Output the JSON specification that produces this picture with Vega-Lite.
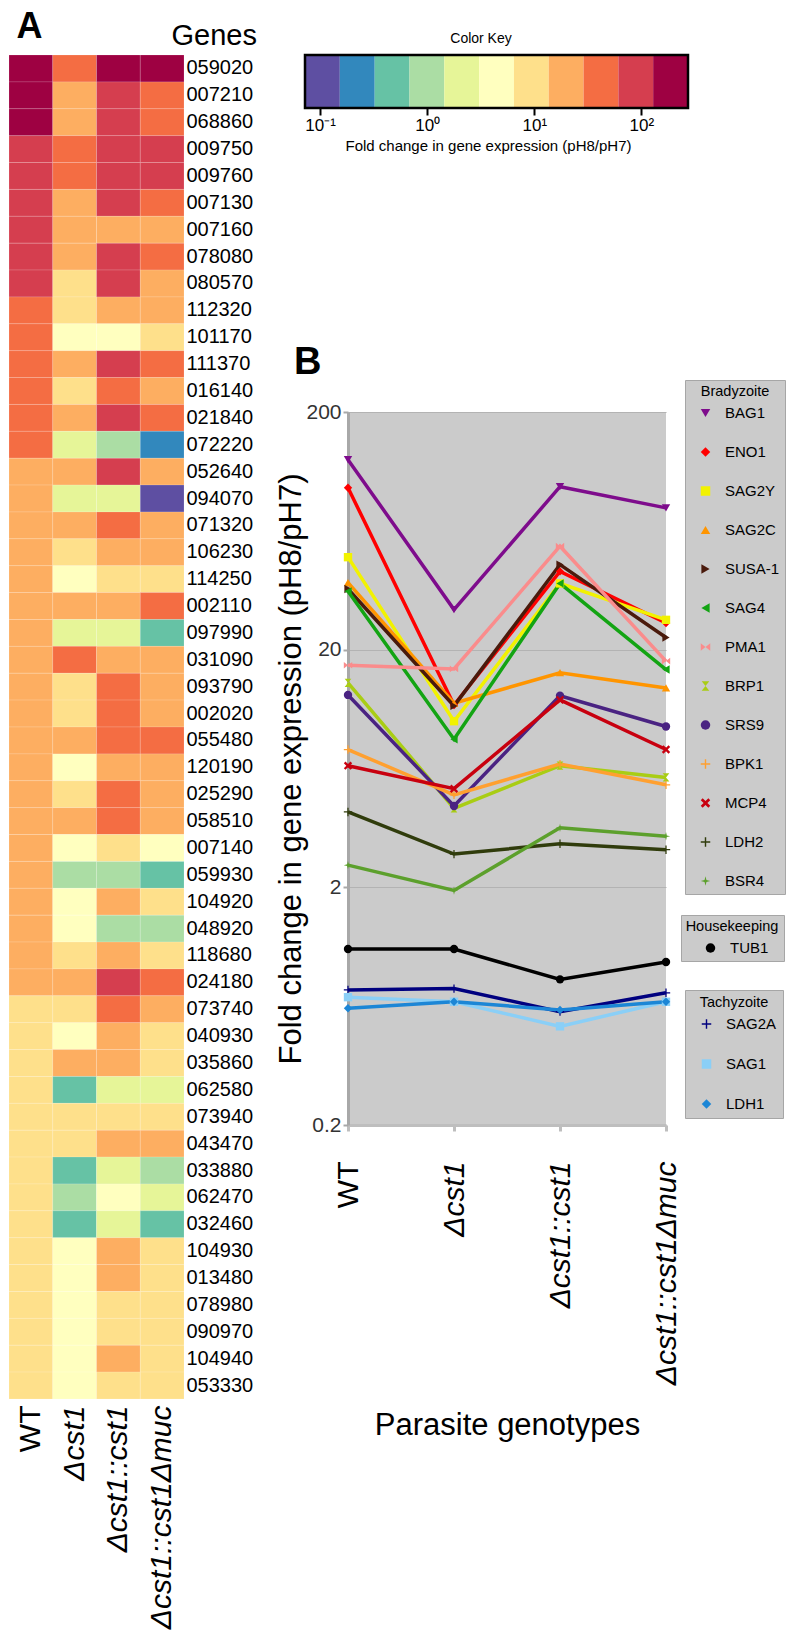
{
  "$schema": "https://vega.github.io/schema/vega-lite/v6.json",
  "background": "white",
  "padding": {"left": 8, "top": 8, "right": 2, "bottom": 4},
  "config": {"font": "Liberation Sans", "view": {"stroke": null}, "axis": {"labelColor": "black", "titleColor": "black"}},
  "datasets": {
    "heat": [
      {"gene":"059020","WT":190,"Δcst1":42,"Δcst1::cst1":190,"Δcst1::cst1Δmuc":190},
      {"gene":"007210","WT":190,"Δcst1":20,"Δcst1::cst1":89,"Δcst1::cst1Δmuc":42},
      {"gene":"068860","WT":190,"Δcst1":20,"Δcst1::cst1":89,"Δcst1::cst1Δmuc":42},
      {"gene":"009750","WT":89,"Δcst1":42,"Δcst1::cst1":89,"Δcst1::cst1Δmuc":89},
      {"gene":"009760","WT":89,"Δcst1":42,"Δcst1::cst1":89,"Δcst1::cst1Δmuc":89},
      {"gene":"007130","WT":89,"Δcst1":20,"Δcst1::cst1":89,"Δcst1::cst1Δmuc":42},
      {"gene":"007160","WT":89,"Δcst1":20,"Δcst1::cst1":20,"Δcst1::cst1Δmuc":20},
      {"gene":"078080","WT":89,"Δcst1":20,"Δcst1::cst1":89,"Δcst1::cst1Δmuc":42},
      {"gene":"080570","WT":89,"Δcst1":9.4,"Δcst1::cst1":89,"Δcst1::cst1Δmuc":20},
      {"gene":"112320","WT":42,"Δcst1":9.4,"Δcst1::cst1":20,"Δcst1::cst1Δmuc":20},
      {"gene":"101170","WT":42,"Δcst1":4.4,"Δcst1::cst1":4.4,"Δcst1::cst1Δmuc":9.4},
      {"gene":"111370","WT":42,"Δcst1":20,"Δcst1::cst1":89,"Δcst1::cst1Δmuc":42},
      {"gene":"016140","WT":42,"Δcst1":9.4,"Δcst1::cst1":42,"Δcst1::cst1Δmuc":20},
      {"gene":"021840","WT":42,"Δcst1":20,"Δcst1::cst1":89,"Δcst1::cst1Δmuc":42},
      {"gene":"072220","WT":42,"Δcst1":2.1,"Δcst1::cst1":1,"Δcst1::cst1Δmuc":0.22},
      {"gene":"052640","WT":20,"Δcst1":20,"Δcst1::cst1":89,"Δcst1::cst1Δmuc":20},
      {"gene":"094070","WT":20,"Δcst1":2.1,"Δcst1::cst1":2.1,"Δcst1::cst1Δmuc":0.1},
      {"gene":"071320","WT":20,"Δcst1":20,"Δcst1::cst1":42,"Δcst1::cst1Δmuc":20},
      {"gene":"106230","WT":20,"Δcst1":9.4,"Δcst1::cst1":20,"Δcst1::cst1Δmuc":20},
      {"gene":"114250","WT":20,"Δcst1":4.4,"Δcst1::cst1":9.4,"Δcst1::cst1Δmuc":9.4},
      {"gene":"002110","WT":20,"Δcst1":20,"Δcst1::cst1":20,"Δcst1::cst1Δmuc":42},
      {"gene":"097990","WT":20,"Δcst1":2.1,"Δcst1::cst1":2.1,"Δcst1::cst1Δmuc":0.47},
      {"gene":"031090","WT":20,"Δcst1":42,"Δcst1::cst1":20,"Δcst1::cst1Δmuc":20},
      {"gene":"093790","WT":20,"Δcst1":9.4,"Δcst1::cst1":42,"Δcst1::cst1Δmuc":20},
      {"gene":"002020","WT":20,"Δcst1":9.4,"Δcst1::cst1":42,"Δcst1::cst1Δmuc":20},
      {"gene":"055480","WT":20,"Δcst1":20,"Δcst1::cst1":42,"Δcst1::cst1Δmuc":42},
      {"gene":"120190","WT":20,"Δcst1":4.4,"Δcst1::cst1":20,"Δcst1::cst1Δmuc":20},
      {"gene":"025290","WT":20,"Δcst1":9.4,"Δcst1::cst1":42,"Δcst1::cst1Δmuc":20},
      {"gene":"058510","WT":20,"Δcst1":20,"Δcst1::cst1":42,"Δcst1::cst1Δmuc":20},
      {"gene":"007140","WT":20,"Δcst1":4.4,"Δcst1::cst1":9.4,"Δcst1::cst1Δmuc":4.4},
      {"gene":"059930","WT":20,"Δcst1":1,"Δcst1::cst1":1,"Δcst1::cst1Δmuc":0.47},
      {"gene":"104920","WT":20,"Δcst1":4.4,"Δcst1::cst1":20,"Δcst1::cst1Δmuc":9.4},
      {"gene":"048920","WT":20,"Δcst1":4.4,"Δcst1::cst1":1,"Δcst1::cst1Δmuc":1},
      {"gene":"118680","WT":20,"Δcst1":9.4,"Δcst1::cst1":20,"Δcst1::cst1Δmuc":9.4},
      {"gene":"024180","WT":20,"Δcst1":20,"Δcst1::cst1":89,"Δcst1::cst1Δmuc":42},
      {"gene":"073740","WT":9.4,"Δcst1":9.4,"Δcst1::cst1":42,"Δcst1::cst1Δmuc":20},
      {"gene":"040930","WT":9.4,"Δcst1":4.4,"Δcst1::cst1":20,"Δcst1::cst1Δmuc":9.4},
      {"gene":"035860","WT":9.4,"Δcst1":20,"Δcst1::cst1":20,"Δcst1::cst1Δmuc":9.4},
      {"gene":"062580","WT":9.4,"Δcst1":0.47,"Δcst1::cst1":2.1,"Δcst1::cst1Δmuc":2.1},
      {"gene":"073940","WT":9.4,"Δcst1":9.4,"Δcst1::cst1":9.4,"Δcst1::cst1Δmuc":9.4},
      {"gene":"043470","WT":9.4,"Δcst1":9.4,"Δcst1::cst1":20,"Δcst1::cst1Δmuc":20},
      {"gene":"033880","WT":9.4,"Δcst1":0.47,"Δcst1::cst1":2.1,"Δcst1::cst1Δmuc":1},
      {"gene":"062470","WT":9.4,"Δcst1":1,"Δcst1::cst1":4.4,"Δcst1::cst1Δmuc":2.1},
      {"gene":"032460","WT":9.4,"Δcst1":0.47,"Δcst1::cst1":2.1,"Δcst1::cst1Δmuc":0.47},
      {"gene":"104930","WT":9.4,"Δcst1":4.4,"Δcst1::cst1":20,"Δcst1::cst1Δmuc":9.4},
      {"gene":"013480","WT":9.4,"Δcst1":4.4,"Δcst1::cst1":20,"Δcst1::cst1Δmuc":9.4},
      {"gene":"078980","WT":9.4,"Δcst1":4.4,"Δcst1::cst1":9.4,"Δcst1::cst1Δmuc":9.4},
      {"gene":"090970","WT":9.4,"Δcst1":4.4,"Δcst1::cst1":9.4,"Δcst1::cst1Δmuc":9.4},
      {"gene":"104940","WT":9.4,"Δcst1":4.4,"Δcst1::cst1":20,"Δcst1::cst1Δmuc":9.4},
      {"gene":"053330","WT":9.4,"Δcst1":4.4,"Δcst1::cst1":9.4,"Δcst1::cst1Δmuc":9.4}
    ],
    "key": [
      {"lo":0.0724,"hi":0.153,"fc":0.105},
      {"lo":0.153,"hi":0.324,"fc":0.22},
      {"lo":0.324,"hi":0.684,"fc":0.47},
      {"lo":0.684,"hi":1.445,"fc":1},
      {"lo":1.445,"hi":3.055,"fc":2.1},
      {"lo":3.055,"hi":6.457,"fc":4.4},
      {"lo":6.457,"hi":13.65,"fc":9.4},
      {"lo":13.65,"hi":28.84,"fc":20},
      {"lo":28.84,"hi":60.95,"fc":42},
      {"lo":60.95,"hi":128.8,"fc":89},
      {"lo":128.8,"hi":272.3,"fc":190}
    ],
    "lines": [
      {"gene":"BAG1","group":"Bradyzoite","WT":126,"Δcst1":29.5,"Δcst1::cst1":97,"Δcst1::cst1Δmuc":79},
      {"gene":"ENO1","group":"Bradyzoite","WT":96,"Δcst1":11.7,"Δcst1::cst1":42.7,"Δcst1::cst1Δmuc":25.9},
      {"gene":"SAG2Y","group":"Bradyzoite","WT":49,"Δcst1":10,"Δcst1::cst1":38,"Δcst1::cst1Δmuc":26.7},
      {"gene":"SAG2C","group":"Bradyzoite","WT":38.3,"Δcst1":11.9,"Δcst1::cst1":16,"Δcst1::cst1Δmuc":13.8},
      {"gene":"SUSA-1","group":"Bradyzoite","WT":36,"Δcst1":11.6,"Δcst1::cst1":45.6,"Δcst1::cst1Δmuc":22.5},
      {"gene":"SAG4","group":"Bradyzoite","WT":35.2,"Δcst1":8.4,"Δcst1::cst1":38,"Δcst1::cst1Δmuc":16.5},
      {"gene":"PMA1","group":"Bradyzoite","WT":17.2,"Δcst1":16.6,"Δcst1::cst1":54.5,"Δcst1::cst1Δmuc":17.9},
      {"gene":"BRP1","group":"Bradyzoite","WT":14.5,"Δcst1":4.3,"Δcst1::cst1":6.5,"Δcst1::cst1Δmuc":5.8},
      {"gene":"SRS9","group":"Bradyzoite","WT":12.9,"Δcst1":4.4,"Δcst1::cst1":12.8,"Δcst1::cst1Δmuc":9.5},
      {"gene":"BPK1","group":"Bradyzoite","WT":7.6,"Δcst1":4.9,"Δcst1::cst1":6.6,"Δcst1::cst1Δmuc":5.4},
      {"gene":"MCP4","group":"Bradyzoite","WT":6.5,"Δcst1":5.2,"Δcst1::cst1":12.3,"Δcst1::cst1Δmuc":7.6},
      {"gene":"LDH2","group":"Bradyzoite","WT":4.15,"Δcst1":2.76,"Δcst1::cst1":3.05,"Δcst1::cst1Δmuc":2.88},
      {"gene":"BSR4","group":"Bradyzoite","WT":2.48,"Δcst1":1.94,"Δcst1::cst1":3.56,"Δcst1::cst1Δmuc":3.28},
      {"gene":"TUB1","group":"Housekeeping","WT":1.1,"Δcst1":1.1,"Δcst1::cst1":0.82,"Δcst1::cst1Δmuc":0.97},
      {"gene":"SAG2A","group":"Tachyzoite","WT":0.74,"Δcst1":0.75,"Δcst1::cst1":0.6,"Δcst1::cst1Δmuc":0.72},
      {"gene":"SAG1","group":"Tachyzoite","WT":0.69,"Δcst1":0.66,"Δcst1::cst1":0.52,"Δcst1::cst1Δmuc":0.66},
      {"gene":"LDH1","group":"Tachyzoite","WT":0.62,"Δcst1":0.66,"Δcst1::cst1":0.61,"Δcst1::cst1Δmuc":0.66}
    ]
  },
  "spacing": 18,
  "hconcat": [
    {
      "data": {"name": "heat"},
      "transform": [{"fold": ["WT","Δcst1","Δcst1::cst1","Δcst1::cst1Δmuc"], "as": ["genotype","fc"]}],
      "width": 175,
      "height": 1344,
      "layer": [
        {
          "mark": {"type": "rect", "stroke": "white", "strokeWidth": 0.6, "strokeOpacity": 0.25},
          "encoding": {
            "x": {"field": "genotype", "type": "nominal", "sort": ["WT","Δcst1","Δcst1::cst1","Δcst1::cst1Δmuc"],
              "scale": {"paddingInner": 0, "paddingOuter": 0},
              "axis": {"orient": "bottom", "labelAngle": -90, "labelFontSize": 30, "labelLimit": 400,
                "labelFontStyle": {"condition": {"test": "datum.value === 'WT'", "value": "normal"}, "value": "italic"},
                "ticks": false, "domain": false, "labelPadding": 6, "title": null}},
            "y": {"field": "gene", "type": "nominal", "sort": null,
              "scale": {"paddingInner": 0, "paddingOuter": 0},
              "axis": {"orient": "right", "labelFontSize": 20, "ticks": false, "domain": false, "labelPadding": 2,
                "title": "Genes", "titleAngle": 0, "titleFontSize": 29, "titleFontWeight": "normal",
                "titleAlign": "left", "titleBaseline": "alphabetic", "titleX": -13, "titleY": -11}},
            "color": {"field": "fc", "type": "quantitative",
              "scale": {"type": "threshold", "domain": [0.153,0.324,0.684,1.445,3.055,6.457,13.65,28.84,60.95,128.8],
                "range": ["#5E4FA2","#3288BD","#66C2A5","#ABDDA4","#E6F598","#FFFFBF","#FEE08B","#FDAE61","#F46D43","#D53E4F","#9E0142"]},
              "legend": null}
          }
        },
        {
          "mark": {"type": "text"},
          "encoding": {
            "y": {"field": "gene", "type": "nominal", "sort": null,
              "axis": {"orient": "left", "labels": false, "ticks": false, "domain": false, "grid": false,
                "title": "A", "titleAngle": 0, "titleFontSize": 36, "titleFontWeight": "bold",
                "titleAlign": "left", "titleBaseline": "alphabetic", "titleX": 7, "titleY": -18}},
            "text": {"value": ""}
          }
        }
      ],
      "resolve": {"axis": {"y": "independent"}}
    },
    {
      "spacing": 190,
      "vconcat": [
        {
          "data": {"name": "key"},
          "width": 340,
          "height": 53,
          "title": {"text": ["", "Color Key"], "fontSize": 14, "fontWeight": "normal", "lineHeight": 20, "offset": 8, "dx": -37, "color": "black"},
          "encoding": {
            "y": {"datum": "key", "type": "nominal", "scale": {"paddingInner": 0, "paddingOuter": 0}, "axis": null}
          },
          "layer": [
            {
              "mark": {"type": "rect"},
              "encoding": {
                "x": {"field": "lo", "type": "quantitative",
                  "scale": {"type": "log", "domain": [0.0724, 272.3], "range": [-43, 340], "nice": false, "zero": false},
                  "axis": {"values": [0.1, 1, 10, 100],
                    "labelExpr": "datum.value < 0.5 ? '10⁻¹' : datum.value < 5 ? '10⁰' : datum.value < 50 ? '10¹' : '10²'",
                    "labelFontSize": 17, "labelPadding": 2, "tickColor": "black", "tickWidth": 2, "tickSize": 7,
                    "domain": false, "grid": false,
                    "title": "Fold change in gene expression (pH8/pH7)", "titleFontSize": 15, "titleFontWeight": "normal", "titlePadding": 5, "titleX": 140}},
                "x2": {"field": "hi"},
                "color": {"field": "fc", "type": "quantitative",
                  "scale": {"type": "threshold", "domain": [0.153,0.324,0.684,1.445,3.055,6.457,13.65,28.84,60.95,128.8],
                    "range": ["#5E4FA2","#3288BD","#66C2A5","#ABDDA4","#E6F598","#FFFFBF","#FEE08B","#FDAE61","#F46D43","#D53E4F","#9E0142"]},
                  "legend": null}
              }
            },
            {
              "transform": [{"aggregate": [{"op": "min", "field": "lo", "as": "lo"}, {"op": "max", "field": "hi", "as": "hi"}]}],
              "mark": {"type": "rect", "filled": false, "stroke": "black", "strokeWidth": 2.5},
              "encoding": {
                "x": {"field": "lo", "type": "quantitative"},
                "x2": {"field": "hi"}
              }
            }
          ]
        },
        {
          "data": {"name": "lines"},
          "transform": [{"fold": ["WT","Δcst1","Δcst1::cst1","Δcst1::cst1Δmuc"], "as": ["genotype","fc"]}],
          "width": 318,
          "height": 713,
          "view": {"fill": "#CBCBCB"},
          "title": {"text": "B", "fontSize": 38, "fontWeight": "bold", "anchor": "start", "frame": "bounds", "dx": 18, "offset": -2, "color": "black"},
          "encoding": {
            "x": {"field": "genotype", "type": "nominal", "sort": ["WT","Δcst1","Δcst1::cst1","Δcst1::cst1Δmuc"],
              "scale": {"type": "point", "padding": 0},
              "axis": {"labelAngle": -90, "labelFontSize": 30, "labelLimit": 400,
                "labelFontStyle": {"condition": {"test": "datum.value === 'WT'", "value": "normal"}, "value": "italic"},
                "labelPadding": 30, "domainColor": "#BEBEBE", "domainWidth": 3, "tickColor": "#BEBEBE", "tickWidth": 3, "tickSize": 6,
                "grid": false, "title": "Parasite genotypes", "titleFontSize": 31, "titleFontWeight": "normal", "titlePadding": 85}},
            "y": {"field": "fc", "type": "quantitative",
              "scale": {"type": "log", "domain": [0.2, 200], "nice": false},
              "axis": {"values": [0.2, 2, 20, 200], "format": "~g", "labelFontSize": 21, "labelColor": "#333333", "labelPadding": 2,
                "tickSize": 5, "tickColor": "#A8A8A8", "tickWidth": 2, "domainColor": "#A8A8A8", "domainWidth": 3,
                "grid": true, "gridColor": "#B3B3B3", "gridWidth": 1,
                "title": "Fold change in gene expression (pH8/pH7)", "titleFontSize": 31, "titleFontWeight": "normal", "titlePadding": -2}}
          },
          "layer": [
            {
              "transform": [{"filter": "datum.group === 'Bradyzoite'"}],
              "encoding": {
                "color": {"field": "gene", "type": "nominal",
                  "scale": {"domain": ["BAG1","ENO1","SAG2Y","SAG2C","SUSA-1","SAG4","PMA1","BRP1","SRS9","BPK1","MCP4","LDH2","BSR4"],
                    "range": ["#7E0C8C","#FF0000","#F2F200","#FF9500","#4A1A0C","#13A413","#FA8C8C","#A9CD14","#4A2382","#FFA030","#C8000F","#303C0C","#5CA02C"]},
                  "legend": {"title": "Bradyzoite", "orient": "none", "legendX": 337, "legendY": -32, "fillColor": "#CBCBCB", "strokeColor": "#A6A6A6",
                    "padding": 5, "titleFontSize": 14.5, "titleFontWeight": "normal", "titleAnchor": "middle", "titlePadding": 6, "titleColor": "black",
                    "labelFontSize": 15, "labelColor": "black", "rowPadding": 23, "symbolSize": 90, "symbolStrokeWidth": 0, "symbolOffset": 8, "labelOffset": 12}}
              },
              "layer": [
                {"mark": {"type": "line", "strokeWidth": 3.5}, "encoding": {}},
                {"mark": {"type": "point", "filled": true, "opacity": 1, "size": 70},
                  "encoding": {"shape": {"field": "gene", "type": "nominal",
                    "scale": {"domain": ["BAG1","ENO1","SAG2Y","SAG2C","SUSA-1","SAG4","PMA1","BRP1","SRS9","BPK1","MCP4","LDH2","BSR4"],
                      "range": ["triangle-down","diamond","square","triangle-up","triangle-right","triangle-left",
                        "M-1,-0.8L0,0L-1,0.8Z M1,-0.8L0,0L1,0.8Z",
                        "M-0.8,-1L0.8,-1L0,0Z M-0.8,1L0.8,1L0,0Z",
                        "circle",
                        "M-1,-0.15H-0.15V-1H0.15V-0.15H1V0.15H0.15V1H-0.15V0.15H-1Z",
                        "M-1,-0.6L-0.6,-1L0,-0.4L0.6,-1L1,-0.6L0.4,0L1,0.6L0.6,1L0,0.4L-0.6,1L-1,0.6L-0.4,0Z",
                        "M-1,-0.15H-0.15V-1H0.15V-0.15H1V0.15H0.15V1H-0.15V0.15H-1Z",
                        "M0,-1L0.2,-0.2L1,0L0.2,0.2L0,1L-0.2,0.2L-1,0L-0.2,-0.2Z"]},
                    "legend": {"title": "Bradyzoite", "orient": "none", "legendX": 337, "legendY": -32, "fillColor": "#CBCBCB", "strokeColor": "#A6A6A6",
                      "padding": 5, "titleFontSize": 14.5, "titleFontWeight": "normal", "titleAnchor": "middle", "titlePadding": 6, "titleColor": "black",
                      "labelFontSize": 15, "labelColor": "black", "rowPadding": 23, "symbolSize": 90, "symbolStrokeWidth": 0, "symbolOffset": 8, "labelOffset": 12}}}}
              ]
            },
            {
              "transform": [{"filter": "datum.group === 'Housekeeping'"}],
              "encoding": {
                "color": {"field": "gene", "type": "nominal",
                  "scale": {"domain": ["TUB1"], "range": ["#000000"]},
                  "legend": {"title": "Housekeeping", "orient": "none", "legendX": 333, "legendY": 503, "fillColor": "#CBCBCB", "strokeColor": "#A6A6A6",
                    "padding": 5, "titleFontSize": 14.5, "titleFontWeight": "normal", "titleAnchor": "middle", "titlePadding": 6, "titleColor": "black",
                    "labelFontSize": 15, "labelColor": "black", "rowPadding": 23, "symbolSize": 90, "symbolStrokeWidth": 0, "symbolOffset": 8, "labelOffset": 12}}
              },
              "layer": [
                {"mark": {"type": "line", "strokeWidth": 3.5}, "encoding": {}},
                {"mark": {"type": "point", "filled": true, "opacity": 1, "size": 70},
                  "encoding": {"shape": {"field": "gene", "type": "nominal",
                    "scale": {"domain": ["TUB1"], "range": ["circle"]},
                    "legend": {"title": "Housekeeping", "orient": "none", "legendX": 333, "legendY": 503, "fillColor": "#CBCBCB", "strokeColor": "#A6A6A6",
                      "padding": 5, "titleFontSize": 14.5, "titleFontWeight": "normal", "titleAnchor": "middle", "titlePadding": 6, "titleColor": "black",
                      "labelFontSize": 15, "labelColor": "black", "rowPadding": 23, "symbolSize": 90, "symbolStrokeWidth": 0, "symbolOffset": 8, "labelOffset": 12}}}}
              ]
            },
            {
              "transform": [{"filter": "datum.group === 'Tachyzoite'"}],
              "encoding": {
                "color": {"field": "gene", "type": "nominal",
                  "scale": {"domain": ["SAG2A","SAG1","LDH1"], "range": ["#00007F","#8ACFF7","#1C86D6"]},
                  "legend": {"title": "Tachyzoite", "orient": "none", "legendX": 337, "legendY": 578, "fillColor": "#CBCBCB", "strokeColor": "#A6A6A6",
                    "padding": 6, "titleFontSize": 14.5, "titleFontWeight": "normal", "titleAnchor": "middle", "titlePadding": 6, "titleColor": "black",
                    "labelFontSize": 15, "labelColor": "black", "rowPadding": 24, "symbolSize": 90, "symbolStrokeWidth": 0, "symbolOffset": 8, "labelOffset": 12}}
              },
              "layer": [
                {"mark": {"type": "line", "strokeWidth": 3.5}, "encoding": {}},
                {"mark": {"type": "point", "filled": true, "opacity": 1, "size": 70},
                  "encoding": {"shape": {"field": "gene", "type": "nominal",
                    "scale": {"domain": ["SAG2A","SAG1","LDH1"],
                      "range": ["M-1,-0.15H-0.15V-1H0.15V-0.15H1V0.15H0.15V1H-0.15V0.15H-1Z","square","diamond"]},
                    "legend": {"title": "Tachyzoite", "orient": "none", "legendX": 337, "legendY": 578, "fillColor": "#CBCBCB", "strokeColor": "#A6A6A6",
                      "padding": 6, "titleFontSize": 14.5, "titleFontWeight": "normal", "titleAnchor": "middle", "titlePadding": 6, "titleColor": "black",
                      "labelFontSize": 15, "labelColor": "black", "rowPadding": 24, "symbolSize": 90, "symbolStrokeWidth": 0, "symbolOffset": 8, "labelOffset": 12}}}}
              ]
            }
          ],
          "resolve": {"scale": {"color": "independent", "shape": "independent"}}
        }
      ]
    }
  ]
}
